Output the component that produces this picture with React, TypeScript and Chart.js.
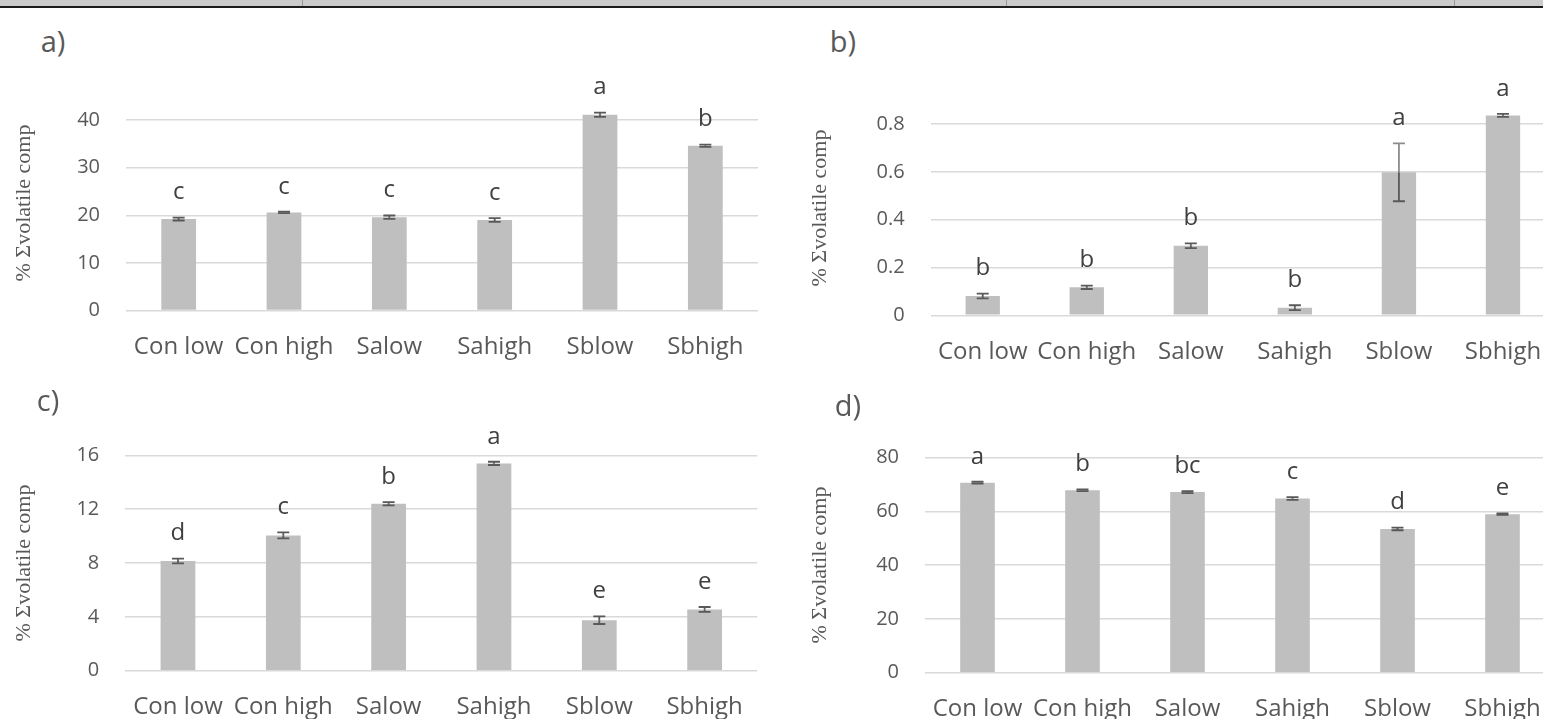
import React, { useEffect, useRef } from 'react';
import { Chart, registerables } from 'chart.js';

Chart.register(...registerables);

// ---------------- data ----------------
const categories = ['Con low', 'Con high', 'Salow', 'Sahigh', 'Sblow', 'Sbhigh'];

const valuesA = [19.2, 20.6, 19.6, 19.0, 41.1, 34.6];
const errorsA = [0.3, 0.15, 0.35, 0.4, 0.45, 0.25];
const lettersA = ['c', 'c', 'c', 'c', 'a', 'b'];

const valuesB = [0.081, 0.117, 0.291, 0.032, 0.598, 0.836];
const errorsB = [0.01, 0.007, 0.01, 0.01, 0.121, 0.006];
const lettersB = ['b', 'b', 'b', 'b', 'a', 'a'];

const valuesC = [8.15, 10.05, 12.4, 15.4, 3.75, 4.55];
const errorsC = [0.18, 0.22, 0.12, 0.12, 0.28, 0.18];
const lettersC = ['d', 'c', 'b', 'a', 'e', 'e'];

const valuesD = [70.7, 67.9, 67.2, 64.8, 53.5, 59.0];
const errorsD = [0.35, 0.3, 0.4, 0.5, 0.5, 0.3];
const lettersD = ['a', 'b', 'bc', 'c', 'd', 'e'];

const axisMaxA = 40, axisStepA = 10;
const axisMaxB = 0.8, axisStepB = 0.2;
const axisMaxC = 16, axisStepC = 4;
const axisMaxD = 80, axisStepD = 20;

const yTitle = '% \u03A3volatile comp';
const panelLabels = ['a)', 'b)', 'c)', 'd)'];

const SANS = '"Open Sans", "DejaVu Sans", sans-serif';
const SERIF = '"Liberation Serif", "DejaVu Serif", serif';

type Area = { l: number; r: number; t: number; b: number };
type PanelProps = {
  left: number; top: number; width: number; height: number;
  area: Area;
  values: number[]; errors: number[]; letters: string[];
  max: number; step: number;
};

function Panel(p: PanelProps) {
  const ref = useRef<HTMLCanvasElement>(null);
  useEffect(() => {
    const marks = {
      id: 'errLetters',
      afterDatasetsDraw(chart: any) {
        const ctx = chart.ctx;
        const y = chart.scales.y;
        const meta = chart.getDatasetMeta(0);
        ctx.save();
        meta.data.forEach((bar: any, i: number) => {
          const v = p.values[i];
          const e = p.errors[i];
          const x = bar.x;
          const yv = y.getPixelForValue(v);
          const yt = y.getPixelForValue(v + e);
          const yb = y.getPixelForValue(v - e);
          const cap = 6;
          const far = yv - yt > 4;
          ctx.lineWidth = 1.8;
          ctx.strokeStyle = far ? '#8c8c8c' : '#595959';
          ctx.beginPath();
          ctx.moveTo(x, yt); ctx.lineTo(x, yv);
          ctx.moveTo(x - cap, yt); ctx.lineTo(x + cap, yt);
          ctx.stroke();
          ctx.strokeStyle = '#595959';
          ctx.beginPath();
          ctx.moveTo(x, yv); ctx.lineTo(x, yb);
          ctx.moveTo(x - cap, yb); ctx.lineTo(x + cap, yb);
          ctx.stroke();
          ctx.fillStyle = '#404040';
          ctx.font = `24px ${SANS}`;
          ctx.textAlign = 'center';
          ctx.textBaseline = 'middle';
          ctx.fillText(p.letters[i], x, yt - 25);
        });
        ctx.restore();
      },
    };
    const chart = new Chart(ref.current as HTMLCanvasElement, {
      type: 'bar',
      data: {
        labels: categories,
        datasets: [{
          data: p.values,
          backgroundColor: '#bfbfbf',
          borderWidth: 0,
          barPercentage: 0.33,
          categoryPercentage: 1,
          clip: false as any,
        }],
      },
      options: {
        animation: false,
        responsive: false,
        layout: { padding: { left: 0, right: p.width - p.area.r, top: p.area.t, bottom: 0 } },
        plugins: { legend: { display: false }, tooltip: { enabled: false }, title: { display: false } },
        scales: {
          x: {
            grid: { display: false, drawTicks: false },
            border: { display: false },
            ticks: {
              color: '#595959',
              font: { family: SANS, size: 24 },
              padding: 22,
              maxRotation: 0,
              minRotation: 0,
              autoSkip: false,
            },
            afterFit: (s: any) => { s.height = p.height - p.area.b; },
          },
          y: {
            min: 0,
            max: p.max,
            ticks: {
              stepSize: p.step,
              color: '#595959',
              font: { family: SANS, size: 20 },
              padding: 26,
            },
            grid: { color: '#d9d9d9', lineWidth: 1.5, drawTicks: false },
            border: { display: false },
            afterFit: (s: any) => { s.width = p.area.l; },
          },
        },
      } as any,
      plugins: [marks],
    });
    return () => chart.destroy();
  }, []);
  return (
    <canvas
      ref={ref}
      width={p.width}
      height={p.height}
      style={{ position: 'absolute', left: p.left, top: p.top, width: p.width, height: p.height }}
    />
  );
}

function Label({ text, x, y, size, family, rotate }: { text: string; x: number; y: number; size: number; family: string; rotate?: boolean }) {
  return (
    <div
      style={{
        position: 'absolute', left: x, top: y,
        transform: `translate(-50%, -50%)${rotate ? ' rotate(-90deg)' : ''}`,
        whiteSpace: 'nowrap', fontSize: size, fontFamily: family, color: '#595959', lineHeight: 1,
      }}
    >
      {text}
    </div>
  );
}

export default function App() {
  return (
    <div style={{ position: 'fixed', left: 0, top: 0, width: 1543, height: 719, overflow: 'hidden', background: '#ffffff' }}>
      <div style={{ position: 'absolute', left: 0, top: 0, width: 1543, height: 6, background: '#cbcbcb' }} />
      <div style={{ position: 'absolute', left: 0, top: 6, width: 1543, height: 2, background: '#1c1c1c' }} />
      {[302, 1006, 1454].map((x) => (
        <div key={x} style={{ position: 'absolute', left: x, top: 0, width: 1, height: 6, background: '#9a9a9a' }} />
      ))}

      <Panel left={0} top={60} width={775} height={310} area={{ l: 126, r: 758, t: 60, b: 250.5 }}
        values={valuesA} errors={errorsA} letters={lettersA} max={axisMaxA} step={axisStepA} />
      <Panel left={775} top={60} width={790} height={310} area={{ l: 155.7, r: 780, t: 64, b: 255.3 }}
        values={valuesB} errors={errorsB} letters={lettersB} max={axisMaxB} step={axisStepB} />
      <Panel left={0} top={370} width={775} height={349} area={{ l: 125.3, r: 757.3, t: 85.3, b: 300.7 }}
        values={valuesC} errors={errorsC} letters={lettersC} max={axisMaxC} step={axisStepC} />
      <Panel left={775} top={370} width={790} height={349} area={{ l: 150, r: 780, t: 87.7, b: 302.7 }}
        values={valuesD} errors={errorsD} letters={lettersD} max={axisMaxD} step={axisStepD} />

      <Label text={panelLabels[0]} x={53} y={40} size={29} family={SANS} />
      <Label text={panelLabels[1]} x={843} y={40} size={29} family={SANS} />
      <Label text={panelLabels[2]} x={48} y={399} size={29} family={SANS} />
      <Label text={panelLabels[3]} x={848} y={404} size={29} family={SANS} />

      <Label text={yTitle} x={23} y={202.5} size={22} family={SERIF} rotate />
      <Label text={yTitle} x={819} y={207.5} size={22} family={SERIF} rotate />
      <Label text={yTitle} x={23} y={563} size={22} family={SERIF} rotate />
      <Label text={yTitle} x={819} y={565} size={22} family={SERIF} rotate />
    </div>
  );
}
